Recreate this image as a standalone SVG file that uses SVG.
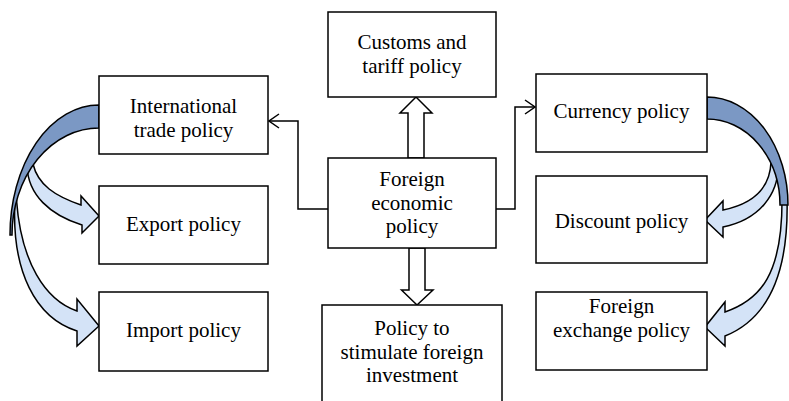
<svg xmlns="http://www.w3.org/2000/svg" width="789" height="401" viewBox="0 0 789 401">
<defs>
<style>
.box{fill:#fff;stroke:#000;stroke-width:1.5}
.t{font-family:"Liberation Serif","Times New Roman",serif;font-size:21px;fill:#000;text-anchor:middle}
.ln{fill:none;stroke:#000;stroke-width:1.5}
.blk{fill:#fff;stroke:#000;stroke-width:1.5;stroke-linejoin:miter}
.dark{fill:#7b98c4;stroke:#000;stroke-width:1.5}
.light{fill:#d4e3f7;stroke:#000;stroke-width:1.5;stroke-linejoin:miter}
</style>
<marker id="open" viewBox="0 0 12 16" refX="11" refY="8" markerWidth="12" markerHeight="16" markerUnits="userSpaceOnUse" orient="auto">
<path d="M1,1 L11,8 L1,15" fill="none" stroke="#000" stroke-width="1.5"/>
</marker>
</defs>
<rect width="789" height="401" fill="#fff"/>
<g id="connectors">
<path class="ln" d="M328,209 H298 V121 H269" marker-end="url(#open)"/>
<path class="ln" d="M496,209 H515 V107 H535" marker-end="url(#open)"/>
<path class="blk" d="M408,158 V113 H400 L416,97 L432,113 H424 V158 Z"/>
<path class="blk" d="M409,248 V290 H401.5 L417,305 L433,290 H425 V248 Z"/>
<path class="light" d="M15,200 C11,272 36,318 77,331 L77,346 L99,326 L77,299 L77,311 C45,300 21,262 16.5,200 Z"/>
<path class="light" d="M27,166 C28,195 50,215 82,225 L82,233 L99,216 L81,196 L81,205 C55,196 38,185 33,164 Z"/>
<path class="dark" d="M99,105 A89 130 0 0 0 10,235 L12,235 A87 107 0 0 1 99,128 Z"/>
<path class="light" d="M778,162 C780,195 758,220 723,227 L723,237 L705,220 L723,201 L723,210 C752,204 770,190 771,162 Z"/>
<path class="light" d="M787,198 C789,270 770,318 725,336 L725,346 L705,327 L725,302 L725,312 C760,300 783,275 782,196 Z"/>
<path class="dark" d="M707,97 A81 108 0 0 1 788,205 L780,205 A73 86 0 0 0 707,119 Z"/>
</g>
<g id="customs">
<rect class="box" x="328" y="12" width="168" height="85"/>
<text class="t" x="412" y="49">Customs and</text>
<text class="t" x="412" y="73">tariff policy</text>
</g>
<g id="foreign-economic">
<rect class="box" x="328" y="158" width="168" height="90"/>
<text class="t" x="412" y="186">Foreign</text>
<text class="t" x="412" y="209.5">economic</text>
<text class="t" x="412" y="233">policy</text>
</g>
<g id="stimulate">
<rect class="box" x="322" y="305" width="180" height="110"/>
<text class="t" x="412" y="335">Policy to</text>
<text class="t" x="412" y="358.5">stimulate foreign</text>
<text class="t" x="412" y="382">investment</text>
</g>
<g id="international">
<rect class="box" x="99" y="76" width="169" height="78"/>
<text class="t" x="183.5" y="112.5">International</text>
<text class="t" x="183.5" y="136.5">trade policy</text>
</g>
<g id="export">
<rect class="box" x="99" y="186" width="169" height="78"/>
<text class="t" x="183.5" y="230.5">Export policy</text>
</g>
<g id="import">
<rect class="box" x="99" y="292" width="169" height="79"/>
<text class="t" x="183.5" y="336.5">Import policy</text>
</g>
<g id="currency">
<rect class="box" x="536" y="74" width="171" height="78"/>
<text class="t" x="621.5" y="117.5">Currency policy</text>
</g>
<g id="discount">
<rect class="box" x="536" y="176" width="171" height="87"/>
<text class="t" x="621.5" y="228">Discount policy</text>
</g>
<g id="foreign-exchange">
<rect class="box" x="536" y="292" width="171" height="78"/>
<text class="t" x="621.5" y="313">Foreign</text>
<text class="t" x="621.5" y="336.5">exchange policy</text>
</g>
</svg>
